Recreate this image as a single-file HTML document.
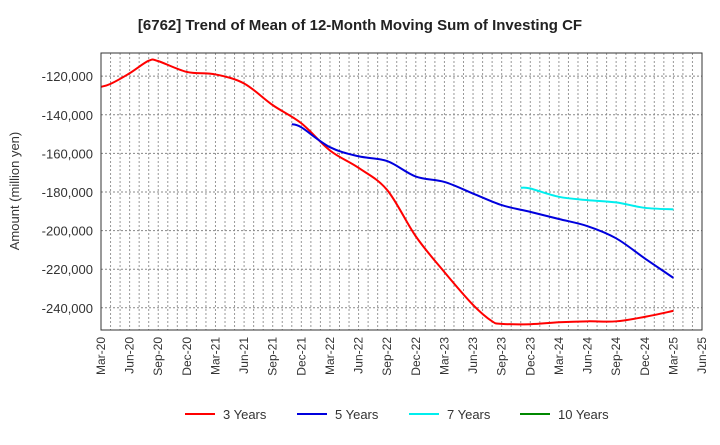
<!DOCTYPE html>
<html><head><meta charset="utf-8"><style>
body{margin:0;background:#fff;font-family:"Liberation Sans",Arial,sans-serif}
svg text{font-family:"Liberation Sans",Arial,sans-serif}
</style></head><body>
<svg id="chart" width="720" height="440" viewBox="0 0 720 440" xmlns="http://www.w3.org/2000/svg">
<text x="360" y="30" text-anchor="middle" font-size="15" font-weight="bold" fill="#222">[6762]  Trend of Mean of 12-Month Moving Sum of Investing CF</text>
<text transform="translate(19,191) rotate(-90)" text-anchor="middle" font-size="13" fill="#333">Amount (million yen)</text>
<g id="grid"></g>
<g id="ylabels"></g>
<g id="xlabels"></g>
<g id="series"></g>
<rect x="101" y="53" width="601" height="277" fill="none" stroke="#333" stroke-width="1"/>
<g id="legend"></g>
</svg>
<script>
const xTickLabels=["Mar-20","Jun-20","Sep-20","Dec-20","Mar-21","Jun-21","Sep-21","Dec-21","Mar-22","Jun-22","Sep-22","Dec-22","Mar-23","Jun-23","Sep-23","Dec-23","Mar-24","Jun-24","Sep-24","Dec-24","Mar-25","Jun-25"];
const yTicks=[-120000,-140000,-160000,-180000,-200000,-220000,-240000];
const months3=[0,1,3,5,6,9,12,15,18,21,24,27,30,33,36,39,41,42,45,48,51,54,57,60];
const values3=[-125500,-124000,-118500,-112000,-112200,-117800,-119100,-123800,-135000,-144400,-158500,-167500,-179000,-203000,-221500,-238500,-247000,-248300,-248500,-247500,-247000,-247000,-244700,-241600];
const months5=[20,21,24,27,30,33,36,39,42,45,48,51,54,57,60];
const values5=[-144900,-146500,-156800,-161500,-164000,-172000,-174800,-180800,-186800,-190300,-194000,-197700,-204000,-214400,-224500];
const months7=[44,45,48,51,54,57,60];
const values7=[-177800,-178200,-182500,-184200,-185400,-188200,-189000];
const months10=[];
const values10=[];
const seriesNames=["3 Years","5 Years","7 Years","10 Years"];
const seriesColors=["#ff0000","#0000dd","#00eeee","#008800"];

const L=101,R=702,T=53,B=330,YMAX=-108000,YMIN=-251500,NM=63;
const xs=m=>L+(R-L)*m/NM;
const ys=v=>T+(B-T)*(YMAX-v)/(YMAX-YMIN);
const NS="http://www.w3.org/2000/svg";
function mk(tag,attrs,parent){const e=document.createElementNS(NS,tag);for(const k in attrs)e.setAttribute(k,attrs[k]);parent.appendChild(e);return e;}
const grid=document.getElementById('grid');
for(let m=1;m<NM;m++){
  const l=mk('line',{x1:xs(m),x2:xs(m),y1:T,y2:B,stroke:'#999','stroke-width':1,'stroke-dasharray':'2,2'},grid);
  
  
}
const yl=document.getElementById('ylabels');
yTicks.forEach(v=>{
  const l=mk('line',{x1:L,x2:R,y1:ys(v),y2:ys(v),stroke:'#888','stroke-width':1,'stroke-dasharray':'2,2'},grid);
  
  
  const t=mk('text',{x:93,y:ys(v)+5,'text-anchor':'end','font-size':13,fill:'#333'},yl);
  t.textContent=v.toLocaleString('en-US');
  
  
});
const xl=document.getElementById('xlabels');
xTickLabels.forEach((s,i)=>{
  const x=xs(i*3);
  const t=mk('text',{transform:`translate(${x+4},337) rotate(-90)`,'text-anchor':'end','font-size':12,fill:'#333'},xl);
  t.textContent=s;
  
  
});
function path(ms,vs){
  const p=ms.map((m,i)=>[xs(m),ys(vs[i])]);
  if(!p.length)return '';
  let d=`M${p[0][0]},${p[0][1]}`;
  for(let i=0;i<p.length-1;i++){
    const p0=p[i-1]||p[i],p1=p[i],p2=p[i+1],p3=p[i+2]||p2;
    const c1=[p1[0]+(p2[0]-p0[0])/6,p1[1]+(p2[1]-p0[1])/6];
    const c2=[p2[0]-(p3[0]-p1[0])/6,p2[1]-(p3[1]-p1[1])/6];
    d+=` C${c1[0]},${c1[1]} ${c2[0]},${c2[1]} ${p2[0]},${p2[1]}`;
  }
  return d;
}
const sg=document.getElementById('series');
[[months3,values3],[months5,values5],[months7,values7],[months10,values10]].forEach((s,i)=>{
  if(!s[0].length)return;
  const p=mk('path',{d:path(s[0],s[1]),fill:'none',stroke:seriesColors[i],'stroke-width':2},sg);
  
  
});
const lg=document.getElementById('legend');
const lx=[185,297,409,520];
seriesNames.forEach((n,i)=>{
  const g=mk('g',{},lg);
  
  
  mk('line',{x1:lx[i],x2:lx[i]+30,y1:414,y2:414,stroke:seriesColors[i],'stroke-width':2},g);
  const t=mk('text',{x:lx[i]+38,y:419,'font-size':13,fill:'#333'},g);
  t.textContent=n;
});
</script>
</body></html>
